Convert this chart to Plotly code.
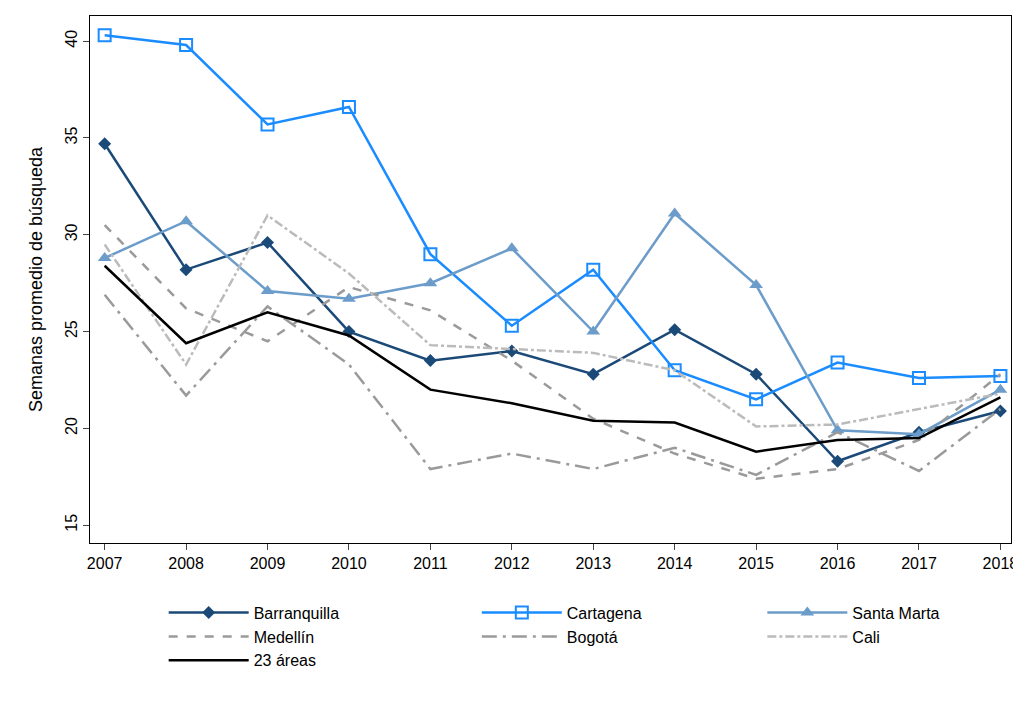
import plotly.graph_objects as go

years = list(range(2007, 2019))
barranquilla = [34.7, 28.2, 29.6, 25.0, 23.5, 24.0, 22.8, 25.1, 22.8, 18.3, 19.8, 20.9]
cartagena = [40.3, 39.8, 35.7, 36.6, 29.0, 25.3, 28.2, 23.0, 21.5, 23.4, 22.6, 22.7]
santa_marta = [28.8, 30.7, 27.1, 26.7, 27.5, 29.3, 25.0, 31.1, 27.4, 19.9, 19.7, 22.0]
medellin = [30.5, 26.2, 24.5, 27.3, 26.1, 23.5, 20.5, 18.7, 17.4, 17.9, 19.4, 22.8]
bogota = [26.9, 21.7, 26.3, 23.3, 17.9, 18.7, 17.9, 19.0, 17.6, 19.8, 17.8, 21.0]
cali = [29.5, 23.3, 31.0, 28.0, 24.3, 24.1, 23.9, 23.0, 20.1, 20.2, 21.0, 21.8]
areas23 = [28.4, 24.4, 26.0, 24.8, 22.0, 21.3, 20.4, 20.3, 18.8, 19.4, 19.5, 21.6]

gray = "#9a9a9a"
fig = go.Figure()
fig.add_trace(go.Scatter(x=years, y=barranquilla, name="Barranquilla", mode="lines+markers", legend="legend",
    line=dict(color="#1b4a78", width=2.5), marker=dict(symbol="diamond", size=10)))
fig.add_trace(go.Scatter(x=years, y=cartagena, name="Cartagena", mode="lines+markers", legend="legend2",
    line=dict(color="#1a8cff", width=2.5), marker=dict(symbol="square-open", size=12, line=dict(width=2))))
fig.add_trace(go.Scatter(x=years, y=santa_marta, name="Santa Marta", mode="lines+markers", legend="legend3",
    line=dict(color="#6c9cc9", width=2.5), marker=dict(symbol="triangle-up", size=12)))
fig.add_trace(go.Scatter(x=years, y=medellin, name="Medellín", mode="lines", legend="legend",
    line=dict(color=gray, width=2.5, dash="dash")))
fig.add_trace(go.Scatter(x=years, y=bogota, name="Bogotá", mode="lines", legend="legend2",
    line=dict(color=gray, width=2.5, dash="longdashdot")))
fig.add_trace(go.Scatter(x=years, y=cali, name="Cali", mode="lines", legend="legend3",
    line=dict(color="#bbbbbb", width=2.5, dash="dashdot")))
fig.add_trace(go.Scatter(x=years, y=areas23, name="23 áreas", mode="lines", legend="legend",
    line=dict(color="black", width=2.5)))

leg = dict(orientation="v", yanchor="top", xanchor="left", y=-0.1, itemwidth=80,
           font=dict(size=16), traceorder="normal", tracegroupgap=0)
fig.update_layout(
    width=1021, height=705, paper_bgcolor="white", plot_bgcolor="white",
    margin=dict(l=82, r=18, t=8, b=170),
    font=dict(family="Liberation Sans, Arial", size=16, color="black"),
    xaxis=dict(tickmode="array", tickvals=years, range=[2006.82, 2018.13], showgrid=False,
               showline=True, linecolor="black", ticks="outside", ticklen=6, mirror=True, zeroline=False),
    yaxis=dict(title=dict(text="Semanas promedio de búsqueda", font=dict(size=18)), range=[14.08, 41.3],
               tickvals=[15, 20, 25, 30, 35, 40], tickangle=-90, showgrid=False,
               showline=True, linecolor="black", ticks="outside", ticklen=6, mirror=True, zeroline=False),
    legend=dict(leg, x=0.08),
    legend2=dict(leg, x=0.42),
    legend3=dict(leg, x=0.73),
)
fig.write_html("out.html")
